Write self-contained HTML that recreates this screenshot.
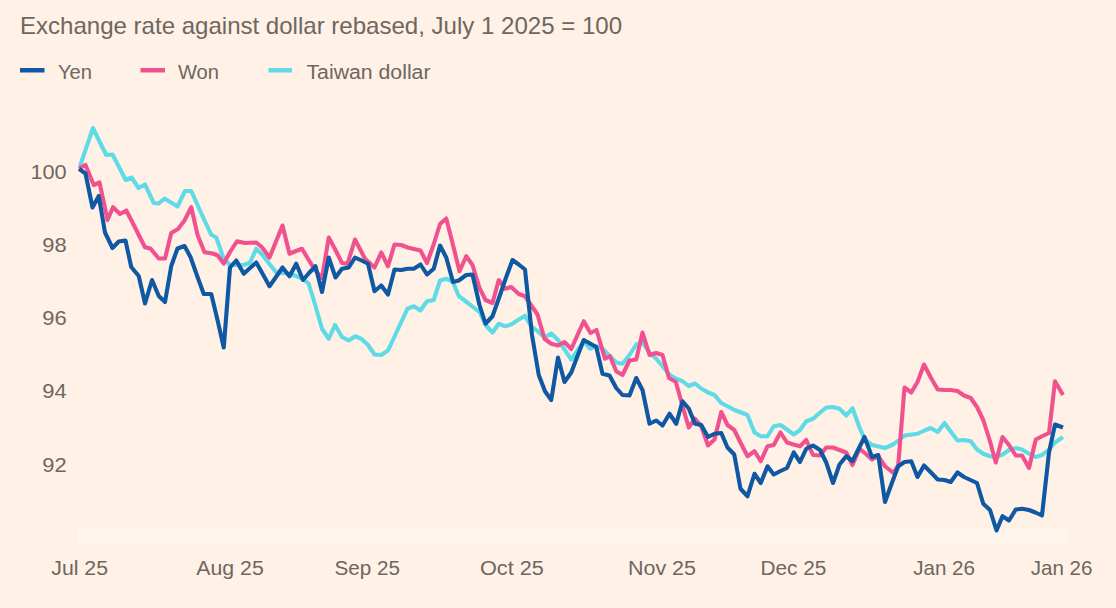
<!DOCTYPE html>
<html><head><meta charset="utf-8">
<style>
html,body{margin:0;padding:0;background:#fff1e5;}
body{width:1116px;height:608px;overflow:hidden;position:relative;font-family:"Liberation Sans",sans-serif;}
svg{position:absolute;left:0;top:0;}
text{font-family:"Liberation Sans",sans-serif;fill:#6e6661;}
</style></head><body>
<svg width="1116" height="608" viewBox="0 0 1116 608">
<rect x="0" y="0" width="1116" height="608" fill="#fff1e5"/>
<rect x="77.5" y="528.5" width="991" height="15.5" fill="#fff5ec"/>
<text id="title" x="20" y="33.5" font-size="24" textLength="602" lengthAdjust="spacingAndGlyphs">Exchange rate against dollar rebased, July 1 2025 = 100</text>
<rect x="20" y="68" width="24.5" height="4.5" fill="#0f58a3"/>
<rect x="140.5" y="68" width="24.5" height="4.5" fill="#f0528f"/>
<rect x="268.5" y="68" width="23.5" height="4.5" fill="#5fdbe8"/>
<g font-size="20" lengthAdjust="spacingAndGlyphs">
<text x="58" y="78.5" textLength="34" lengthAdjust="spacingAndGlyphs">Yen</text>
<text x="178" y="78.5" textLength="41" lengthAdjust="spacingAndGlyphs">Won</text>
<text x="306.5" y="78.5" textLength="124" lengthAdjust="spacingAndGlyphs">Taiwan dollar</text>
</g>
<g font-size="20.3">
<text x="30.4" y="178.8" textLength="36.2" lengthAdjust="spacingAndGlyphs">100</text>
<text x="42.2" y="251.8" textLength="24.4" lengthAdjust="spacingAndGlyphs">98</text>
<text x="42.2" y="324.8" textLength="24.4" lengthAdjust="spacingAndGlyphs">96</text>
<text x="42.2" y="397.8" textLength="24.4" lengthAdjust="spacingAndGlyphs">94</text>
<text x="42.2" y="471.8" textLength="24.4" lengthAdjust="spacingAndGlyphs">92</text>
</g>
<g font-size="20.3">
<text x="51.25" y="575" textLength="56.75" lengthAdjust="spacingAndGlyphs">Jul 25</text>
<text x="196.25" y="575" textLength="67.5" lengthAdjust="spacingAndGlyphs">Aug 25</text>
<text x="334.5" y="575" textLength="65.5" lengthAdjust="spacingAndGlyphs">Sep 25</text>
<text x="480" y="575" textLength="63.75" lengthAdjust="spacingAndGlyphs">Oct 25</text>
<text x="628" y="575" textLength="68" lengthAdjust="spacingAndGlyphs">Nov 25</text>
<text x="760.5" y="575" textLength="65.75" lengthAdjust="spacingAndGlyphs">Dec 25</text>
<text x="913.25" y="575" textLength="61.75" lengthAdjust="spacingAndGlyphs">Jan 26</text>
<text x="1030.75" y="575" textLength="61.75" lengthAdjust="spacingAndGlyphs">Jan 26</text>
</g>
<g fill="none" stroke-width="4.1" stroke-linejoin="round" stroke-linecap="butt">
<path stroke="#5fdbe8" d="M80.00,166.25 L86.50,147.00 L93.00,128.00 L99.50,141.50 L106.25,155.00 L112.50,154.50 L119.00,167.00 L125.70,180.00 L131.50,177.50 L138.50,188.00 L145.00,184.50 L153.75,203.00 L158.75,203.50 L164.50,198.50 L171.00,202.50 L177.50,206.50 L185.00,191.00 L191.25,191.00 L198.00,206.00 L204.50,220.50 L211.25,234.75 L216.25,237.50 L223.75,258.75 L230.00,265.00 L243.75,265.00 L250.00,262.50 L256.25,248.75 L262.50,255.00 L269.50,264.00 L276.25,272.50 L290.00,273.75 L303.00,278.75 L308.75,283.75 L315.50,306.00 L322.00,328.75 L328.75,338.75 L335.00,325.00 L342.00,337.00 L348.75,340.50 L355.00,336.25 L361.25,338.75 L368.00,345.00 L374.50,354.50 L381.25,355.00 L388.00,350.50 L394.50,336.50 L401.00,322.50 L407.50,308.75 L413.75,306.25 L420.50,310.50 L427.00,301.25 L433.75,300.00 L440.00,280.50 L446.25,278.75 L452.50,281.25 L458.75,296.00 L466.00,301.50 L473.00,307.00 L480.00,312.50 L485.50,325.00 L492.50,332.50 L498.75,323.75 L505.00,326.25 L511.25,324.50 L518.00,320.00 L525.00,315.75 L531.00,326.00 L537.50,331.00 L544.50,337.50 L551.25,333.50 L558.00,340.00 L564.50,349.50 L571.25,359.50 L577.50,350.50 L583.75,341.25 L590.00,348.75 L596.25,346.25 L602.50,348.75 L610.00,356.25 L616.25,362.50 L622.50,363.75 L629.50,355.00 L636.25,344.50 L642.50,342.50 L649.50,352.50 L656.25,358.75 L662.50,366.25 L669.50,374.75 L676.00,378.75 L682.25,381.00 L688.75,386.00 L695.00,383.50 L701.25,388.50 L708.00,392.50 L714.50,395.00 L721.25,403.00 L728.00,406.50 L734.50,410.00 L741.00,412.50 L747.50,415.00 L754.50,432.50 L760.75,436.25 L767.50,436.25 L773.75,426.25 L780.50,425.00 L787.00,429.50 L793.75,434.50 L800.00,430.00 L806.25,421.25 L813.00,418.75 L819.50,413.00 L826.25,407.50 L833.00,407.00 L839.50,408.75 L846.25,415.50 L852.50,408.25 L859.50,427.50 L865.00,440.00 L872.00,445.00 L878.50,446.50 L885.00,448.00 L893.50,444.25 L899.00,440.00 L904.50,435.50 L917.50,433.75 L924.50,430.50 L930.75,428.00 L937.75,432.00 L944.50,423.00 L951.00,432.00 L957.50,440.50 L964.00,440.00 L970.75,441.25 L977.00,449.50 L983.25,453.75 L990.00,456.25 L995.75,457.00 L1002.50,454.50 L1009.00,450.00 L1015.75,448.00 L1022.00,449.50 L1029.00,453.75 L1035.75,457.00 L1042.00,455.00 L1049.00,449.50 L1055.00,442.50 L1063.00,437.00"/>
<path stroke="#f0528f" d="M79.00,168.50 L85.50,165.00 L93.75,185.00 L99.50,182.50 L107.50,220.00 L113.00,207.25 L120.00,214.00 L126.25,210.50 L132.50,222.50 L138.75,235.00 L145.00,247.25 L150.50,248.50 L158.75,258.50 L165.00,258.50 L171.25,233.00 L178.00,229.00 L184.50,220.50 L191.25,207.25 L197.50,234.75 L204.50,252.25 L212.50,253.50 L217.50,255.25 L223.75,263.50 L230.00,252.00 L237.00,241.25 L245.00,243.00 L256.25,242.50 L262.00,247.25 L269.50,257.50 L276.00,241.50 L282.50,225.50 L289.50,253.75 L296.00,251.00 L302.00,248.75 L308.75,260.00 L315.00,270.00 L322.00,278.00 L328.75,237.50 L335.50,250.00 L342.00,263.00 L347.50,263.75 L355.00,239.50 L361.50,252.00 L365.00,258.75 L374.50,267.50 L381.25,252.50 L388.00,266.25 L394.50,244.50 L401.25,245.00 L407.50,247.50 L414.00,249.00 L420.50,250.50 L427.00,263.00 L433.50,245.00 L440.00,224.00 L446.25,218.50 L453.00,245.00 L459.50,271.25 L466.25,256.25 L472.50,265.00 L479.50,288.00 L485.50,300.00 L492.50,303.00 L498.75,280.00 L505.00,288.75 L511.25,287.00 L518.75,294.00 L525.00,296.25 L531.00,305.00 L537.50,314.50 L544.50,338.75 L551.25,343.75 L558.00,345.50 L564.50,342.00 L571.25,349.00 L577.50,335.00 L583.75,321.25 L590.50,333.00 L596.50,330.00 L605.00,358.75 L610.00,356.25 L616.25,371.25 L622.50,375.00 L629.50,360.50 L636.25,359.50 L642.50,332.50 L649.50,355.00 L656.25,353.00 L662.50,355.00 L669.00,378.00 L675.75,381.75 L682.25,405.00 L688.75,427.50 L695.00,418.75 L701.25,426.25 L708.00,445.50 L714.50,439.50 L721.25,412.00 L727.50,425.00 L734.25,430.00 L740.75,443.00 L747.50,456.25 L754.50,451.25 L760.75,461.25 L767.50,446.25 L773.75,445.00 L780.50,432.50 L787.00,442.50 L793.50,444.50 L800.00,446.25 L806.25,440.00 L813.00,455.00 L820.00,455.50 L826.25,447.50 L833.00,447.50 L839.50,450.00 L846.25,452.50 L852.50,465.00 L859.50,448.75 L866.00,454.00 L872.00,459.50 L878.25,456.25 L885.00,466.25 L893.50,473.00 L898.25,465.00 L904.50,387.50 L911.25,392.50 L917.50,382.00 L924.00,364.50 L930.75,377.50 L937.75,389.50 L944.50,390.00 L950.75,390.00 L957.50,391.00 L964.00,395.50 L970.75,398.00 L977.00,407.00 L983.25,420.00 L990.00,441.25 L995.75,462.50 L1002.50,437.00 L1009.00,445.00 L1015.75,455.50 L1022.00,455.50 L1029.00,468.00 L1035.75,439.50 L1042.00,436.25 L1049.00,433.00 L1055.00,381.25 L1063.00,395.00"/>
<path stroke="#0f58a3" d="M79.00,168.80 L85.50,173.50 L92.50,207.50 L98.75,196.00 L105.00,232.50 L112.50,248.00 L118.75,241.50 L125.50,240.50 L131.25,267.00 L138.75,276.00 L145.00,303.50 L152.00,280.00 L158.75,296.00 L165.00,302.00 L171.25,266.00 L177.50,248.50 L184.50,246.00 L190.50,257.00 L197.00,275.50 L203.75,294.00 L211.25,294.00 L217.50,320.00 L223.75,347.50 L230.00,267.50 L236.25,260.50 L243.75,273.75 L250.00,268.00 L256.25,262.50 L263.00,274.50 L269.50,286.25 L276.00,277.00 L282.50,267.50 L289.50,276.25 L296.25,263.75 L303.00,280.00 L309.00,273.00 L315.50,266.25 L322.00,292.00 L328.75,257.50 L335.50,277.50 L342.00,268.75 L348.75,267.50 L355.00,257.50 L361.50,260.50 L368.00,263.75 L374.50,291.25 L381.25,285.50 L388.00,294.50 L394.50,269.50 L401.25,270.00 L407.50,268.75 L413.75,268.75 L420.50,264.50 L427.00,274.50 L433.75,268.75 L440.00,245.50 L446.25,257.50 L453.00,282.00 L458.75,280.50 L466.25,275.00 L472.50,274.50 L479.50,305.00 L485.50,323.75 L492.50,316.25 L499.00,298.00 L505.50,279.00 L512.50,260.00 L518.75,264.50 L525.00,269.50 L532.00,335.00 L538.75,375.00 L545.00,391.25 L551.25,400.00 L558.00,357.50 L564.50,382.00 L571.25,372.50 L577.50,356.00 L583.75,340.00 L590.00,343.50 L596.25,347.00 L602.50,373.75 L609.50,375.50 L616.25,388.00 L622.50,395.00 L629.50,395.50 L636.25,378.00 L642.50,390.00 L649.50,423.75 L656.25,420.50 L662.50,425.50 L669.50,413.75 L676.25,423.75 L682.50,401.25 L688.75,408.50 L695.00,423.75 L701.25,425.00 L708.00,437.00 L714.50,433.75 L721.25,433.00 L727.50,447.50 L734.25,454.50 L740.50,488.75 L747.50,496.25 L754.50,473.75 L760.75,483.00 L767.50,466.25 L773.75,474.50 L780.50,471.00 L787.00,468.00 L793.75,452.50 L800.00,462.00 L806.25,448.75 L813.00,445.50 L820.00,450.00 L826.25,462.50 L833.00,483.00 L839.50,464.50 L846.25,456.25 L852.50,461.00 L858.50,449.00 L864.50,437.00 L872.00,457.00 L878.25,455.00 L885.00,502.00 L891.50,484.00 L898.25,466.25 L904.50,462.00 L911.25,461.25 L917.50,477.00 L924.00,465.50 L931.00,472.50 L937.75,479.50 L944.50,480.00 L950.75,482.00 L957.50,472.50 L964.00,477.00 L970.50,480.00 L977.00,483.00 L983.25,503.75 L990.00,510.00 L996.50,530.50 L1002.50,516.25 L1009.00,520.50 L1015.75,509.50 L1022.00,508.75 L1029.00,510.00 L1035.50,512.50 L1042.00,515.50 L1049.00,452.50 L1055.00,424.50 L1063.00,427.50"/>
</g>
</svg>
</body></html>
